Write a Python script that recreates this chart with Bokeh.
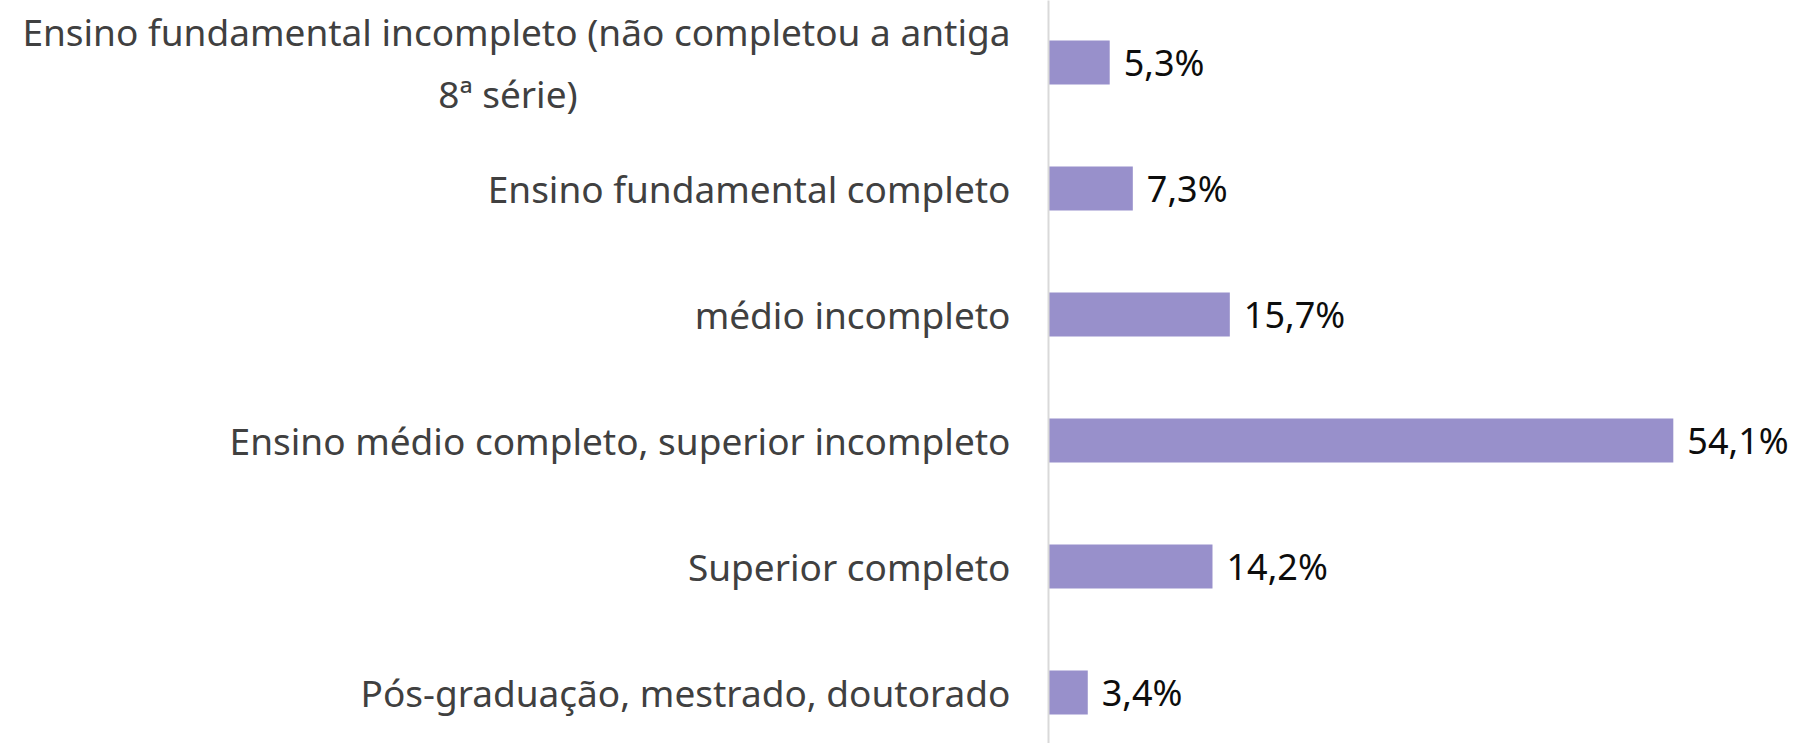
from bokeh.plotting import figure
from bokeh.models import Range1d, FixedTicker, ColumnDataSource
from bokeh.core.properties import value
from bokeh.embed import file_html
from bokeh.resources import INLINE

NB = "\u00a0"
categories = [
    "Ensino fundamental incompleto (não completou a antiga\n8ª série)" + NB * 45,
    "Ensino fundamental completo",
    "médio incompleto",
    "Ensino médio completo, superior incompleto",
    "Superior completo",
    "Pós-graduação, mestrado, doutorado",
]
values = [5.3, 7.3, 15.7, 54.1, 14.2, 3.4]

n = len(categories)
positions = [n - 1 - i for i in range(n)]
labels = [("%.1f" % v).replace(".", ",") + "%" for v in values]

src = ColumnDataSource(dict(y=positions, v=values, lab=labels))

p = figure(width=1795, height=743, output_backend="svg", toolbar_location=None,
           x_range=Range1d(0, 64.68), y_range=Range1d(-0.405, 5.492),
           x_axis_location=None, min_border_left=1048, min_border_right=0,
           min_border_top=0, min_border_bottom=0)
p.outline_line_color = None
p.grid.visible = False
p.background_fill_color = "white"

p.hbar(y="y", right="v", left=0, height=0.35, source=src,
       fill_color="#9890CB", line_color=None)
p.text(x="v", y="y", text="lab", source=src, x_offset=14,
       text_baseline="middle", text_align="left",
       text_font=value("Noto Sans"), text_font_size="36px", text_color="#0d0d0d")

ax = p.yaxis[0]
ax.ticker = FixedTicker(ticks=positions)
ax.major_label_overrides = {pos: cat for pos, cat in zip(positions, categories)}
ax.major_tick_line_color = None
ax.major_tick_out = 0
ax.major_tick_in = 0
ax.minor_tick_line_color = None
ax.axis_line_color = "#D9D9D9"
ax.axis_line_width = 2
ax.major_label_standoff = 38
ax.major_label_text_font = "Noto Sans"
ax.major_label_text_font_size = "37px"
ax.major_label_text_color = "#404040"

open("out.html", "w").write(file_html(p, INLINE))
